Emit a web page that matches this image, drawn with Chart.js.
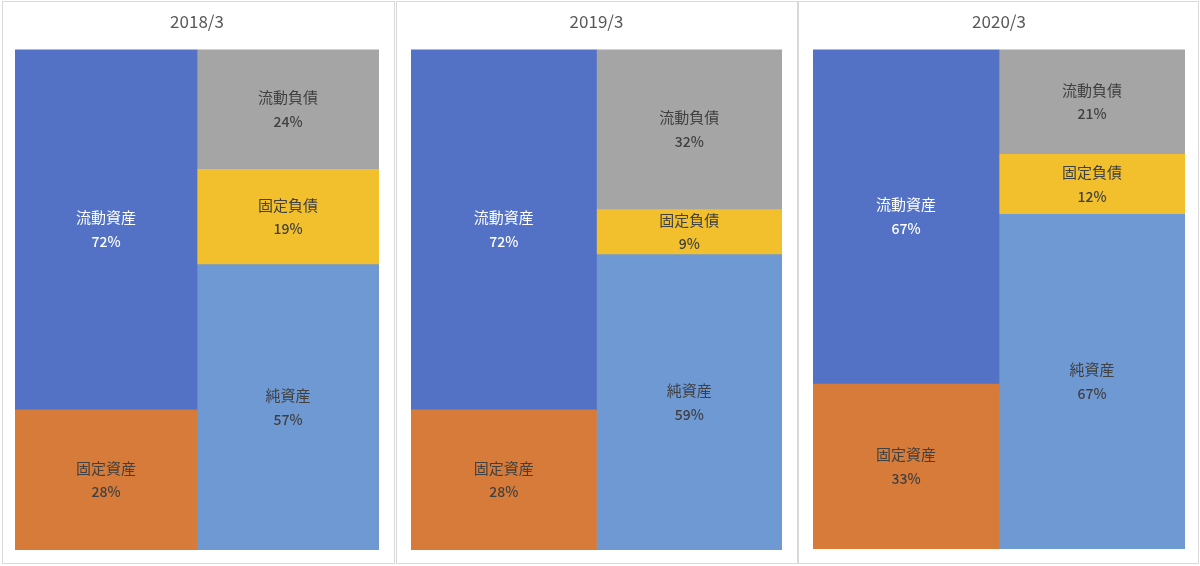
<!DOCTYPE html>
<html>
<head>
<meta charset="utf-8">
<script src="https://cdn.jsdelivr.net/npm/chart.js@4.4.1/dist/chart.umd.min.js"></script>
<style>
  body { margin: 0; background: #fff; width: 1200px; height: 566px; position: relative; overflow: hidden; }
  .panel { position: absolute; border: 1px solid #d9d9d9; background: #fff; box-sizing: border-box; }
  .panel canvas { position: absolute; left: 0; top: 0; }
</style>
</head>
<body>
<div class="panel" id="p0"><canvas id="c0"></canvas></div>
<div class="panel" id="p1"><canvas id="c1"></canvas></div>
<div class="panel" id="p2"><canvas id="c2"></canvas></div>
<script>
// Data
const periods = ['2018/3', '2019/3', '2020/3'];
const barLabels = ['資産', '負債・純資産'];
// assets (left bar), bottom to top
const fixedAssets   = [28, 28, 33];   // 固定資産
const currentAssets = [72, 72, 67];   // 流動資産
// liabilities + equity (right bar), bottom to top
const netAssets     = [57, 59, 67];   // 純資産
const fixedLiab     = [19, 9, 12];    // 固定負債
const currentLiab   = [24, 32, 21];   // 流動負債

// Panel boxes (x, y, w, h) and padding
const panelBoxes = [
    { x: 2,   y: 1, w: 393, h: 563, pl: 12, pr: 15, pb: 13 },
    { x: 396, y: 1, w: 402, h: 563, pl: 14, pr: 15, pb: 13 },
    { x: 798, y: 1, w: 401, h: 563, pl: 14, pr: 13, pb: 14 }
];

const colors = {
    currentAssets: '#5372C5',
    fixedAssets: '#D67B39',
    currentLiab: '#A5A5A5',
    fixedLiab: '#F1C02C',
    netAssets: '#6F99D3'
};

const FONT = '"Noto Sans CJK JP", "Noto Sans", sans-serif';

// Draws name + percent in the middle of every segment
const segmentLabels = {
    id: 'segmentLabels',
    afterDatasetsDraw(chart) {
        const ctx = chart.ctx;
        chart.data.datasets.forEach((ds, di) => {
            const meta = chart.getDatasetMeta(di);
            meta.data.forEach((bar, i) => {
                const v = ds.data[i];
                if (v === null || v === undefined) return;
                const cy = (bar.y + bar.base) / 2;
                ctx.save();
                ctx.fillStyle = ds.labelColor;
                ctx.textAlign = 'center';
                ctx.textBaseline = 'middle';
                ctx.font = '15px ' + FONT;
                ctx.fillText(ds.label, bar.x, cy - 12);
                ctx.font = '500 14px ' + FONT;
                ctx.fillText(v + '%', bar.x, cy + 12);
                ctx.restore();
            });
        });
    }
};

function makeChart(idx) {
    const box = panelBoxes[idx];
    const panel = document.getElementById('p' + idx);
    panel.style.left = box.x + 'px';
    panel.style.top = box.y + 'px';
    panel.style.width = box.w + 'px';
    panel.style.height = box.h + 'px';

    const canvas = document.getElementById('c' + idx);
    const cw = box.w - 2, ch = box.h - 2;
    canvas.width = cw;
    canvas.height = ch;
    canvas.style.width = cw + 'px';
    canvas.style.height = ch + 'px';

    const ds = (label, left, right, color, labelColor) => ({
        label: label,
        data: [left, right],
        backgroundColor: color,
        borderWidth: 0,
        labelColor: labelColor,
        categoryPercentage: 1.0,
        barPercentage: 1.0
    });

    new Chart(canvas, {
        type: 'bar',
        data: {
            labels: barLabels,
            datasets: [
                ds('固定資産', fixedAssets[idx], null, colors.fixedAssets, '#404040'),
                ds('流動資産', currentAssets[idx], null, colors.currentAssets, '#ffffff'),
                ds('純資産', null, netAssets[idx], colors.netAssets, '#404040'),
                ds('固定負債', null, fixedLiab[idx], colors.fixedLiab, '#404040'),
                ds('流動負債', null, currentLiab[idx], colors.currentLiab, '#404040')
            ]
        },
        options: {
            responsive: false,
            animation: false,
            layout: { padding: { left: box.pl, right: box.pr, top: 0, bottom: box.pb } },
            scales: {
                x: { stacked: true, display: false },
                y: { stacked: true, display: false, min: 0, max: 100 }
            },
            plugins: {
                legend: { display: false },
                tooltip: { enabled: false },
                title: {
                    display: true,
                    text: periods[idx],
                    color: '#595959',
                    font: { family: FONT, size: 17, weight: 'normal' },
                    padding: { top: 9, bottom: 18 }
                }
            }
        },
        plugins: [segmentLabels]
    });
}

periods.forEach((p, i) => makeChart(i));
</script>
</body>
</html>
